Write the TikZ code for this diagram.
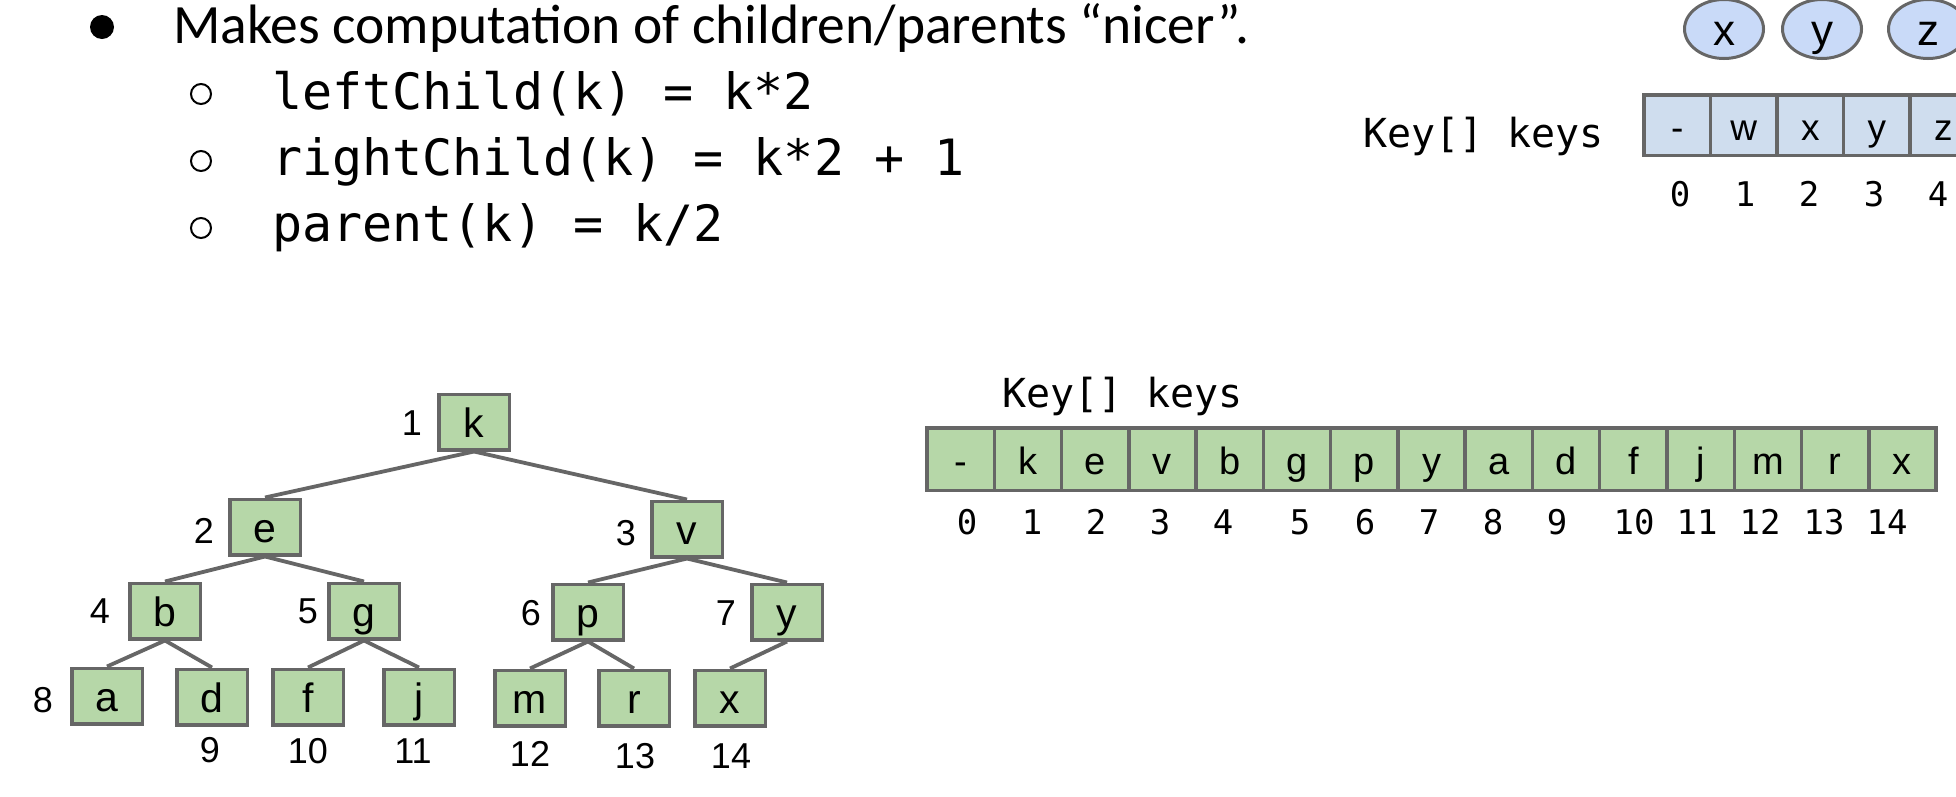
\documentclass[tikz,border=0pt]{standalone}
\usepackage{fontspec}
\setmainfont{Carlito}
\newfontfamily\monof{DejaVu Sans Mono}
\newfontfamily\arialf{Liberation Sans}
\usetikzlibrary{shapes.geometric}
\definecolor{edgegray}{HTML}{666666}
\definecolor{boxgreen}{HTML}{B6D7A8}
\definecolor{cellblue}{HTML}{CFDDEE}
\definecolor{ovalblue}{HTML}{C9DAF8}
\tikzset{
  treebox/.style={draw=edgegray, fill=boxgreen, line width=3.5pt, minimum width=70.5pt, minimum height=55.5pt, inner sep=0pt, font=\arialf\fontsize{41}{41}\selectfont, text height=30pt, text depth=0pt},
  greencell/.style={draw=edgegray, fill=boxgreen, line width=3.5pt, minimum width=67.27pt, minimum height=62.5pt, inner sep=0pt, font=\arialf\fontsize{38}{38}\selectfont, text height=30pt, text depth=0pt},
  bluecell/.style={draw=edgegray, fill=cellblue, line width=3.5pt, minimum width=66.5pt, minimum height=60.5pt, inner sep=0pt, font=\arialf\fontsize{37}{37}\selectfont, text height=30pt, text depth=0pt},
  ovalnode/.style={ellipse, draw=edgegray, fill=ovalblue, line width=3pt, minimum width=79pt, minimum height=59pt, inner sep=0pt, font=\arialf\fontsize{44}{44}\selectfont, text height=32pt, text depth=0pt},
  treeedge/.style={draw=edgegray, line width=3.8pt},
  numlabel/.style={anchor=base, inner sep=0pt, font=\arialf\fontsize{36}{36}\selectfont},
  idxlabel/.style={anchor=base, inner sep=0pt, font=\monof\fontsize{34}{34}\selectfont},
  codeline/.style={anchor=base west, inner sep=0pt, font=\monof\fontsize{50}{50}\selectfont},
  arrlabel/.style={anchor=base west, inner sep=0pt, font=\monof\fontsize{40}{40}\selectfont},
  subbullet/.style={circle, draw=black, line width=2pt, minimum size=20pt, inner sep=0pt},
}
\begin{document}
\begin{tikzpicture}[x=1pt,y=-1pt]
\clip (0,0) rectangle (1956,796);
\fill[white] (0,0) rectangle (1956,796);

% bullet text
\node[circle, fill=black, minimum size=24pt, inner sep=0pt] (bul) at (102,27) {};
\node[anchor=base west, inner sep=0pt, font=\fontsize{55.5}{55.5}\selectfont] (t1) at (173,43) {Makes computation of children/parents “nicer”.};
\node[subbullet] (sb1) at (201,94) {};
\node[subbullet] (sb2) at (201,161) {};
\node[subbullet] (sb3) at (201,228) {};
\node[codeline] (c1) at (272,109) {leftChild(k) = k*2};
\node[codeline] (c2) at (272,175) {rightChild(k) = k*2 + 1};
\node[codeline] (c3) at (272,241) {parent(k) = k/2};

% top right ovals
\node[ovalnode] (ox) at (1724,29) {x};
\node[ovalnode] (oy) at (1822,29) {y};
\node[ovalnode] (oz) at (1928,29) {z};

% top array
\node[arrlabel] (toplab) at (1363,147) {Key[] keys};
\foreach \L [count=\i from 0] in {-,w,x,y,z}
  \node[bluecell] (tc\i) at ({1644+66.5*(\i+0.5)},125) {\L};
\foreach \n/\xx in {0/1680,1/1745,2/1809,3/1874,4/1938}
  \node[idxlabel] (ti\n) at (\xx,206) {\n};

% bottom array
\node[arrlabel] (botlab) at (1002,407) {Key[] keys};
\foreach \L [count=\i from 0] in {-,k,e,v,b,g,p,y,a,d,f,j,m,r,x}
  \node[greencell] (gc\i) at ({927+67.27*(\i+0.5)},459) {\L};
\foreach \n/\xx in {0/967,1/1032,2/1096,3/1160,4/1223,5/1300,6/1365,7/1429,8/1493,9/1557,10/1634,11/1697,12/1760,13/1824,14/1887}
  \node[idxlabel] (bi\n) at (\xx,534) {\n};

% tree
\coordinate (pk) at (474,422);
\coordinate (pe) at (265,527);
\coordinate (pv) at (687,529);
\coordinate (pb) at (165,611);
\coordinate (pg) at (364,611);
\coordinate (pp) at (588,612);
\coordinate (py) at (787,612);
\coordinate (pa) at (107,696);
\coordinate (pd) at (212,697);
\coordinate (pf) at (308,697);
\coordinate (pj) at (419,697);
\coordinate (pm) at (530,698);
\coordinate (pr) at (634,698);
\coordinate (px) at (730,698);

\node[treebox] (nk) at (pk) {k};
\node[treebox] (ne) at (pe) {e};
\node[treebox] (nv) at (pv) {v};
\node[treebox] (nb) at (pb) {b};
\node[treebox] (ng) at (pg) {g};
\node[treebox] (np) at (pp) {p};
\node[treebox] (ny) at (py) {y};
\node[treebox] (na) at (pa) {a};
\node[treebox] (nd) at (pd) {d};
\node[treebox] (nf) at (pf) {f};
\node[treebox] (nj) at (pj) {j};
\node[treebox] (nm) at (pm) {m};
\node[treebox] (nr) at (pr) {r};
\node[treebox] (nx) at (px) {x};

\draw[treeedge] (nk.south) -- (ne.north);
\draw[treeedge] (nk.south) -- (nv.north);
\draw[treeedge] (ne.south) -- (nb.north);
\draw[treeedge] (ne.south) -- (ng.north);
\draw[treeedge] (nv.south) -- (np.north);
\draw[treeedge] (nv.south) -- (ny.north);
\draw[treeedge] (nb.south) -- (na.north);
\draw[treeedge] (nb.south) -- (nd.north);
\draw[treeedge] (ng.south) -- (nf.north);
\draw[treeedge] (ng.south) -- (nj.north);
\draw[treeedge] (np.south) -- (nm.north);
\draw[treeedge] (np.south) -- (nr.north);
\draw[treeedge] (ny.south) -- (nx.north);

% tree index labels
\node[numlabel] (l1) at (412,435) {1};
\node[numlabel] (l2) at (204,543) {2};
\node[numlabel] (l3) at (626,545) {3};
\node[numlabel] (l4) at (100,623) {4};
\node[numlabel] (l5) at (308,623) {5};
\node[numlabel] (l6) at (531,625) {6};
\node[numlabel] (l7) at (726,625) {7};
\node[numlabel] (l8) at (43,712) {8};
\node[numlabel] (l9) at (210,762) {9};
\node[numlabel] (l10) at (308,763) {10};
\node[numlabel] (l11) at (413,763) {11};
\node[numlabel] (l12) at (530,766) {12};
\node[numlabel] (l13) at (635,768) {13};
\node[numlabel] (l14) at (731,768) {14};
\end{tikzpicture}
\end{document}
